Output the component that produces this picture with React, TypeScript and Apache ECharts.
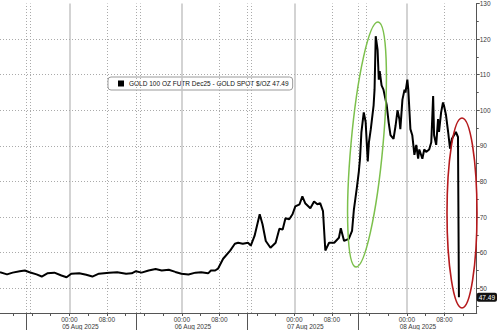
import React, { useEffect, useRef } from "react";
import * as echarts from "echarts";

// hours relative to 05 Aug 2025 00:00
const hours = [
  -14.8, -13.3, -12.1, -10.6, -9.5, -8.5, -7.0, -5.9, -4.7, -3.2, -1.7, -0.6, 0.4, 2.1, 3.6, 4.9, 6.3, 8.5,
  10.2, 12.1, 13.3, 14.2, 15.4, 16.9, 18.4, 19.7, 21.2, 22.6, 23.9, 25.4, 26.9, 28.1, 29.6, 30.2, 31.1, 31.7,
  32.8, 34.3, 35.3, 36.0, 37.0, 38.1, 38.7, 39.5, 40.6, 41.2, 41.9, 42.9, 44.0, 44.8, 45.5, 46.1, 46.9, 47.6,
  48.2, 49.1, 49.7, 50.3, 51.4, 52.2, 52.9, 53.5, 54.1, 54.6, 55.4, 56.5, 57.5, 57.9, 58.6, 59.6, 60.3, 60.7,
  61.3, 61.75, 62.0, 62.3, 62.8, 63.2, 63.65, 63.9, 64.3, 64.9, 65.1, 65.35, 65.75, 66.0, 66.2, 66.6, 67.0,
  67.7, 68.1, 68.5, 69.15, 69.6, 70.0, 70.4, 70.6, 71.05, 71.5, 71.7, 72.1, 72.3, 72.75, 73.15, 73.6, 74.0,
  74.4, 74.65, 75.3, 75.7, 76.1, 76.75, 77.2, 77.6, 77.8, 78.25, 78.65, 78.85, 79.3, 79.7, 79.9, 80.35, 80.8,
  81.2, 81.6, 82.05, 82.45, 82.9, 83.1,
];
const spread = [
  54.5, 53.9, 54.4, 54.8, 55.0, 54.5, 53.9, 53.3, 54.2, 54.4, 53.6, 53.1, 54.1, 54.2, 53.8, 53.3, 54.1, 54.4,
  54.5, 54.1, 54.2, 54.8, 54.4, 55.0, 55.4, 55.0, 55.2, 54.6, 54.1, 53.9, 54.4, 54.5, 54.2, 55.0, 55.0, 55.5,
  58.3, 60.6, 62.5, 62.8, 62.5, 62.8, 62.0, 64.7, 70.8, 68.0, 63.3, 61.4, 62.8, 66.7, 66.5, 69.7, 69.4, 70.8,
  73.0, 73.6, 75.8, 73.9, 72.5, 74.4, 73.6, 73.9, 71.7, 60.6, 62.8, 62.8, 64.2, 66.9, 63.3, 63.9, 66.1, 72.2,
  78.0, 82.8, 86.4, 93.9, 99.4, 96.7, 85.6, 91.0, 94.7, 101.4, 105.8, 120.8, 117.0, 108.6, 111.0, 107.0, 105.8,
  101.4, 96.7, 93.0, 92.0, 95.8, 100.0, 97.5, 94.7, 103.0, 105.8, 105.0, 108.6, 105.8, 94.7, 93.0, 87.5, 90.3,
  86.4, 89.0, 86.4, 89.0, 88.3, 89.0, 91.0, 104.0, 93.0, 90.3, 97.5, 93.9, 99.4, 102.2, 101.4, 98.6, 93.9,
  89.2, 92.0, 93.0, 93.9, 92.5, 47.49,
];

const seriesName = "GOLD 100 OZ FUTR Dec25 - GOLD SPOT $/OZ 47.49";
const lastValue = 47.49;

const X_MIN = -14.8;
const X_MAX = 86.9;
const Y_MIN = 43.06;
const Y_MAX = 130;

const labelHours = [0, 8, 24, 32, 48, 56, 72, 80];
const timeLabels = ["00:00", "08:00", "00:00", "08:00", "00:00", "08:00", "00:00", "08:00"];
const dateLabels = ["05 Aug 2025", "", "06 Aug 2025", "", "07 Aug 2025", "", "08 Aug 2025", ""];
const minorTickHours = [-12, -8, -4, 0, 4, 8, 12, 16, 20, 24, 28, 32, 36, 40, 44, 48, 52, 56, 60, 64, 68, 72, 76, 80, 84];
const dayStartHours = [0, 24, 48, 72];
const dottedHours = [-9.2, -8.3, 8, 14.2, 15.2, 32, 37.9, 38.9, 56, 61.7, 63.4, 80];
const sessionBreakHours = [-9.2, 14.2, 37.9, 61.7];
const yTicks = [50, 60, 70, 80, 90, 100, 110, 120, 130];
const yGridValues = [50, 60, 70, 80, 90, 100, 110, 120];
const yMinorTicks = [45, 55, 65, 75, 85, 95, 105, 115, 125];

const FONT = "Liberation Sans";
const LABEL_COLOR = "#3a3a3a";

export default function App() {
  const ref = useRef<HTMLDivElement>(null);
  useEffect(() => {
    if (!ref.current) return;
    const chart = echarts.init(ref.current, null, { renderer: "svg" });
    const solidGrid = { color: "#c4c4c4", width: 1.5, type: "solid" };
    const dottedGrid = { color: "#aaaaaa", width: 1, type: [1, 2] };
    chart.setOption({
      animation: false,
      textStyle: { fontFamily: FONT },
      grid: { left: 0, right: 19, top: 0, bottom: 17, containLabel: false },
      legend: {
        data: [{ name: seriesName, icon: "rect" }],
        left: 108,
        top: 77,
        backgroundColor: "#fff",
        borderColor: "#9a9a9a",
        borderWidth: 1,
        borderRadius: 3,
        padding: [3, 4, 3, 10],
        itemWidth: 6,
        itemHeight: 6,
        textStyle: { fontSize: 6.5, color: "#111", fontFamily: FONT },
      },
      xAxis: [
        {
          type: "value",
          min: X_MIN,
          max: X_MAX,
          position: "bottom",
          axisLine: { show: true, onZero: false, lineStyle: { color: "#555", width: 1 } },
          axisTick: { show: true, customValues: minorTickHours, length: 3, lineStyle: { color: "#555" } },
          axisLabel: {
            customValues: labelHours,
            margin: 3,
            color: LABEL_COLOR,
            fontSize: 6.5,
            fontFamily: FONT,
            formatter: (v: number) => {
              const i = labelHours.indexOf(v);
              if (i < 0) return "";
              return dateLabels[i]
                ? `{tm|${timeLabels[i]}}\n{dt|${dateLabels[i]}}`
                : `{tm|${timeLabels[i]}}`;
            },
            rich: {
              tm: { fontSize: 6.5, color: LABEL_COLOR, lineHeight: 7, fontFamily: FONT },
              dt: { fontSize: 6.5, color: LABEL_COLOR, lineHeight: 7, padding: [0, 0, 0, 22], fontFamily: FONT },
            },
          },
          splitLine: { show: false },
        },
        {
          type: "value",
          min: X_MIN,
          max: X_MAX,
          position: "bottom",
          axisLine: { show: false, onZero: false },
          axisLabel: { show: false },
          axisTick: { show: true, customValues: sessionBreakHours, length: 17, lineStyle: { color: "#555", width: 1 } },
          splitLine: { show: false },
        },
      ],
      yAxis: [
        {
          type: "value",
          position: "right",
          min: Y_MIN,
          max: Y_MAX,
          axisLine: { show: true, onZero: false, lineStyle: { color: "#555", width: 1 } },
          axisTick: { show: true, customValues: yTicks, length: 3, lineStyle: { color: "#555" } },
          axisLabel: { customValues: yTicks, margin: 3, color: LABEL_COLOR, fontSize: 6.5, fontFamily: FONT },
          splitLine: { show: false },
        },
        {
          type: "value",
          position: "right",
          min: Y_MIN,
          max: Y_MAX,
          axisLine: { show: false, onZero: false },
          axisTick: { show: true, customValues: yMinorTicks, length: 2, lineStyle: { color: "#555" } },
          axisLabel: { show: false },
          splitLine: { show: false },
        },
        {
          type: "value",
          position: "right",
          min: Y_MIN,
          max: Y_MAX,
          axisLine: { show: false, onZero: false },
          axisTick: { show: false },
          axisLabel: {
            customValues: [lastValue],
            margin: 0,
            color: "#fff",
            backgroundColor: "#111",
            borderRadius: 2,
            padding: [1, 2, 1, 2],
            fontSize: 6.5,
            fontFamily: FONT,
            formatter: (v: number) => v.toFixed(2),
          },
          splitLine: { show: false },
        },
      ],
      series: [
        {
          name: "grid",
          type: "line",
          xAxisIndex: 0,
          yAxisIndex: 0,
          data: [],
          z: 1,
          silent: true,
          markLine: {
            silent: true,
            symbol: ["none", "none"],
            label: { show: false },
            animation: false,
            data: [
              ...dayStartHours.map((h) => ({ xAxis: h, lineStyle: solidGrid })),
              ...dottedHours.map((h) => ({ xAxis: h, lineStyle: dottedGrid })),
              ...yGridValues.map((v) => ({ yAxis: v, lineStyle: dottedGrid })),
            ],
          },
        },
        {
          name: seriesName,
          type: "line",
          xAxisIndex: 0,
          yAxisIndex: 0,
          data: hours.map((h, i) => [h, spread[i]]),
          showSymbol: false,
          symbol: "none",
          lineStyle: { color: "#000", width: 2 },
          itemStyle: { color: "#000" },
          z: 5,
        },
      ],
      graphic: [
        {
          type: "ellipse",
          shape: { cx: 0, cy: 0, rx: 16, ry: 123 },
          x: 367,
          y: 144.5,
          rotation: -0.09,
          style: { fill: "none", stroke: "#7cc04c", lineWidth: 1.5 },
          z: 100,
        },
        {
          type: "ellipse",
          shape: { cx: 0, cy: 0, rx: 15, ry: 95 },
          x: 462,
          y: 213,
          style: { fill: "none", stroke: "#b5191c", lineWidth: 1.6 },
          z: 100,
        },
      ],
    });
    return () => chart.dispose();
  }, []);
  return (
    <div
      ref={ref}
      style={{ position: "fixed", left: 0, top: 0, width: 500, height: 330, background: "#fff" }}
    />
  );
}
